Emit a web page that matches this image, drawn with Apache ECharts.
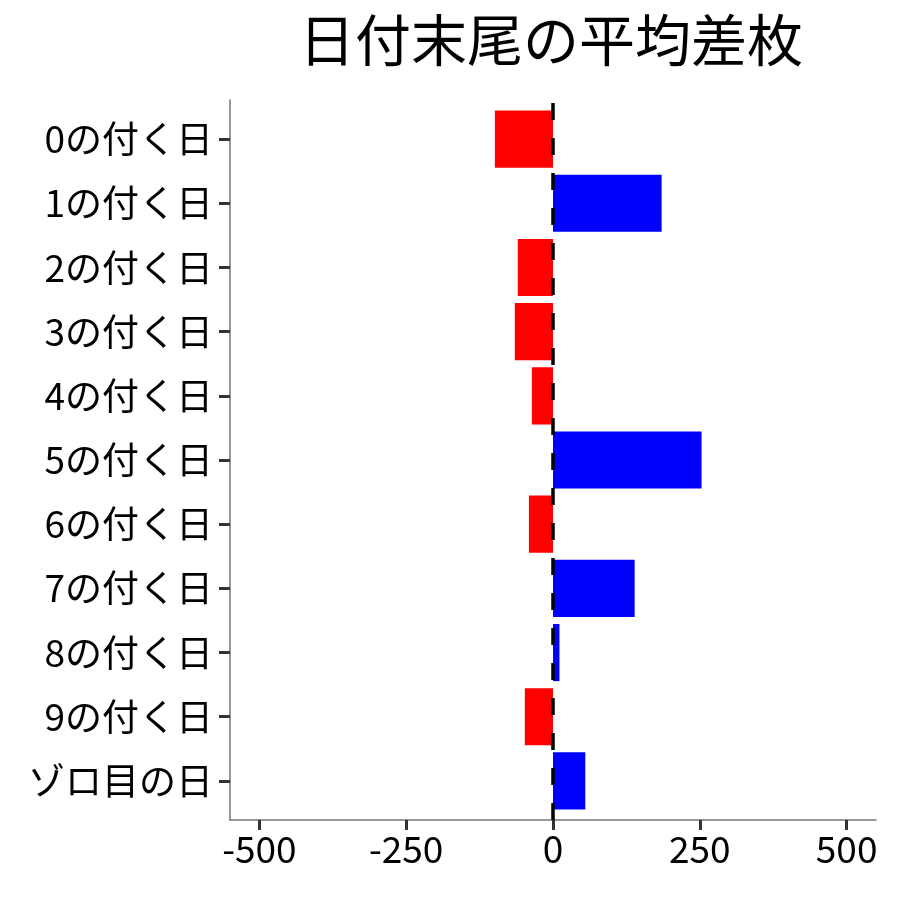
<!DOCTYPE html>
<html>
<head>
<meta charset="utf-8">
<script src="https://cdn.jsdelivr.net/npm/echarts@6/dist/echarts.min.js"></script>
<style>html,body{margin:0;padding:0;background:#fff;}#c{width:900px;height:900px;}</style>
</head>
<body>
<div id="c"></div>
<script>
const categories = ['0の付く日','1の付く日','2の付く日','3の付く日','4の付く日','5の付く日','6の付く日','7の付く日','8の付く日','9の付く日','ゾロ目の日'];
const values = [-99, 185, -60, -65, -36, 253, -41, 139, 11, -48, 55];
const xTicks = [-500, -250, 0, 250, 500];
const titleText = '日付末尾の平均差枚';

const font = "'Noto Sans CJK JP', 'Noto Sans', sans-serif";
const chart = echarts.init(document.getElementById('c'), null, {renderer: 'canvas'});
chart.setOption({
  animation: false,
  backgroundColor: '#ffffff',
  title: {
    text: titleText,
    left: 546, top: 7, textAlign: 'center',
    textStyle: {fontFamily: font, fontSize: 56, fontWeight: 'normal', color: '#000'}
  },
  grid: [
    {left: 230, right: 24, top: 107, bottom: 87, containLabel: false},
    {left: 230, right: 24, top: 100, bottom: 80, containLabel: false}
  ],
  xAxis: [
    {gridIndex: 0, type: 'value', min: -550, max: 550, interval: 250, show: false},
    {
      gridIndex: 1, type: 'value', min: -550, max: 550, interval: 250,
      splitLine: {show: false},
      axisLine: {show: true, onZero: false, lineStyle: {color: '#777', width: 1.5}},
      axisTick: {show: true, length: 10, lineStyle: {color: '#333', width: 3}, customValues: xTicks},
      axisLabel: {fontFamily: font, fontSize: 37, color: '#000', margin: 10, customValues: xTicks,
        formatter: v => String(v)}
    }
  ],
  yAxis: [
    {
      gridIndex: 0, type: 'category', data: categories, inverse: true,
      axisLine: {show: false, onZero: false},
      axisTick: {show: true, alignWithLabel: true, length: 11, lineStyle: {color: '#333', width: 3}},
      axisLabel: {fontFamily: font, fontSize: 37, color: '#000', margin: 17},
      splitLine: {show: false}
    },
    {
      gridIndex: 1, type: 'value', min: 0, max: 1,
      axisLine: {show: true, onZero: false, lineStyle: {color: '#777', width: 1.5}},
      axisTick: {show: false}, axisLabel: {show: false}, splitLine: {show: false}
    }
  ],
  series: [
    {
      type: 'bar', xAxisIndex: 0, yAxisIndex: 0,
      data: values,
      barCategoryGap: '11%',
      itemStyle: {color: p => p.value < 0 ? '#ff0000' : '#0000ff'}
    },
    {
      type: 'scatter', xAxisIndex: 1, yAxisIndex: 1, data: [], z: 10,
      markLine: {
        silent: true, symbol: 'none', z: 10,
        label: {show: false},
        lineStyle: {color: '#000', width: 3.5, type: [17, 18]},
        data: [{xAxis: 0}]
      }
    }
  ]
});
</script>
</body>
</html>
